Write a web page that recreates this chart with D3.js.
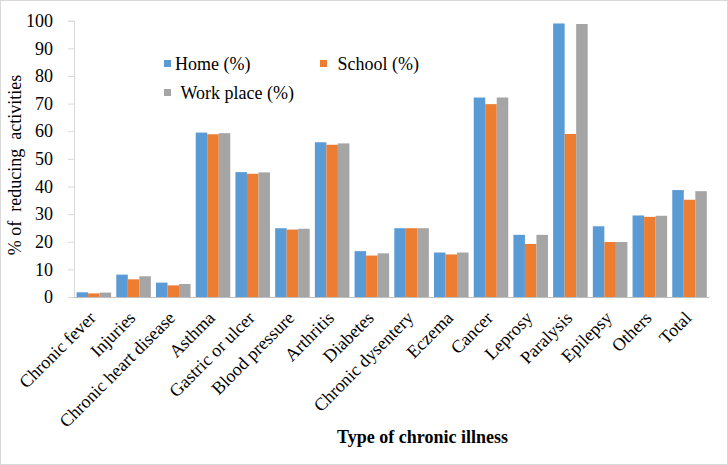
<!DOCTYPE html>
<html>
<head>
<meta charset="utf-8">
<script src="https://cdn.jsdelivr.net/npm/d3@7"></script>
<style>
  html, body { margin: 0; padding: 0; background: #fff; }
  svg { display: block; }
  text { font-family: "Liberation Serif", "Times New Roman", serif; fill: #000; }
</style>
</head>
<body>
<svg id="chart" width="728" height="465"></svg>
<script>
const categories = ["Chronic fever", "Injuries", "Chronic heart disease", "Asthma", "Gastric or ulcer",
  "Blood pressure", "Arthritis", "Diabetes", "Chronic dysentery", "Eczema", "Cancer", "Leprosy",
  "Paralysis", "Epilepsy", "Others", "Total"];
const seriesNames = ["Home (%)", "School (%)", "Work place (%)"];
const home      = [1.7, 8.1, 5.2, 59.5, 45.2, 24.9, 56.0, 16.6, 24.9, 16.1, 72.2, 22.5, 99.0, 25.6, 29.5, 38.7];
const school    = [1.3, 6.4, 4.2, 58.9, 44.6, 24.4, 55.1, 15.0, 24.9, 15.4, 69.8, 19.2, 59.0, 19.9, 29.0, 35.2];
const workplace = [1.6, 7.5, 4.7, 59.3, 45.1, 24.7, 55.6, 15.8, 24.9, 16.1, 72.2, 22.5, 98.8, 19.9, 29.4, 38.3];
const yTicks = [0, 10, 20, 30, 40, 50, 60, 70, 80, 90, 100];
const colors = ["#5B9BD5", "#ED7D31", "#A5A5A5"];
const yTitle = "% of  reducing  activities";
const xTitle = "Type of chronic illness";

const series = [home, school, workplace];
const svg = d3.select("#chart");
const W = 728, H = 465;
const plot = { left: 74, right: 709.4, top: 20.7, bottom: 297 };

// border
svg.append("rect").attr("x", 0.5).attr("y", 0.5).attr("width", W - 1).attr("height", H - 1)
  .attr("fill", "#fff").attr("stroke", "#d9d9d9").attr("stroke-width", 1);

const x = d3.scaleBand().domain(categories).range([plot.left, plot.right]).paddingInner(0.13).paddingOuter(0.065);
const xs = d3.scaleBand().domain(d3.range(series.length)).range([0, x.bandwidth()]);
const y = d3.scaleLinear().domain([0, 100]).range([plot.bottom, plot.top]);

// y axis
const yAxis = svg.append("g").attr("transform", `translate(${plot.left},0)`)
  .call(d3.axisLeft(y).tickValues(yTicks).tickSize(6).tickPadding(15).tickFormat(d3.format("d")));
yAxis.select(".domain").attr("stroke", "#d9d9d9");
yAxis.selectAll(".tick line").attr("stroke", "#d9d9d9");
yAxis.selectAll(".tick text").style("font-size", "18px").style("font-family", "'Liberation Serif', serif").attr("fill", "#000");

// bars
const groups = svg.append("g").selectAll("g").data(categories).join("g")
  .attr("transform", d => `translate(${x(d)},0)`);
groups.selectAll("rect").data((d, i) => series.map((s, k) => ({ k, v: s[i] }))).join("rect")
  .attr("x", d => xs(d.k))
  .attr("width", xs.bandwidth())
  .attr("y", d => y(d.v))
  .attr("height", d => y(0) - y(d.v))
  .attr("fill", d => colors[d.k]);

// x axis line
const xAxis = svg.append("g").attr("transform", `translate(0,${plot.bottom})`)
  .call(d3.axisBottom(x).tickSize(0).tickPadding(0));
xAxis.select(".domain").attr("stroke", "#bfbfbf").attr("d", `M${plot.left},0.5H${plot.right}`);
xAxis.selectAll(".tick text").remove();

// x labels rotated
svg.append("g").selectAll("text").data(categories).join("text")
  .attr("transform", d => `translate(${x(d) + x.bandwidth() / 2 + 3},${plot.bottom + 22}) rotate(-45)`)
  .attr("text-anchor", "end")
  .style("font-size", "18px")
  .text(d => d);

// axis titles
svg.append("text").attr("x", 422.5).attr("y", 443).attr("text-anchor", "middle")
  .style("font-size", "18px").style("font-weight", "bold").text(xTitle);
svg.append("text").attr("transform", "translate(21,165) rotate(-90)").attr("text-anchor", "middle")
  .style("font-size", "18px").style("white-space", "pre").attr("xml:space", "preserve").text(yTitle);

// legend
const legendPos = [ { sx: 164, sy: 60, tx: 175, ty: 70 }, { sx: 320, sy: 60, tx: 337.5, ty: 70 }, { sx: 164, sy: 89, tx: 180.5, ty: 99 } ];
const lg = svg.append("g");
seriesNames.forEach((name, i) => {
  const p = legendPos[i];
  lg.append("rect").attr("x", p.sx).attr("y", p.sy).attr("width", 7).attr("height", 7).attr("fill", colors[i]);
  lg.append("text").attr("x", p.tx).attr("y", p.ty).style("font-size", "18px").text(name);
});
</script>
</body>
</html>
